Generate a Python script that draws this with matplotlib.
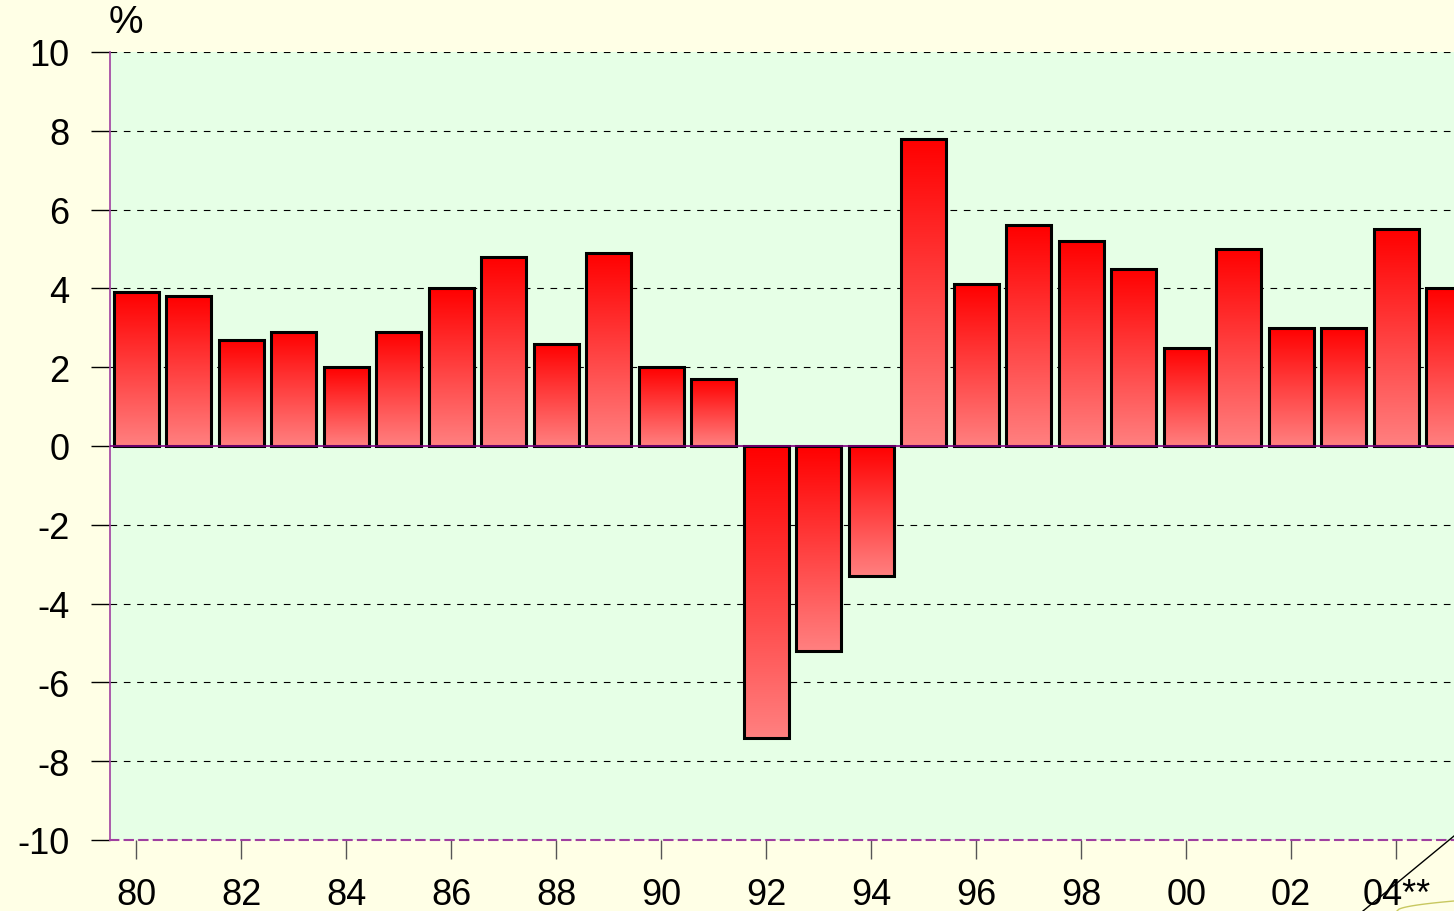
import numpy as np
import matplotlib.pyplot as plt
from matplotlib.lines import Line2D
from matplotlib.colors import LinearSegmentedColormap

plt.rcParams['font.family'] = ['Liberation Sans', 'DejaVu Sans']

years = ['80', '81', '82', '83', '84', '85', '86', '87', '88', '89', '90', '91', '92',
         '93', '94', '95', '96', '97', '98', '99', '00', '01', '02', '03', '04**', '05']
growth = [3.9, 3.8, 2.7, 2.9, 2.0, 2.9, 4.0, 4.8, 2.6, 4.9, 2.0, 1.7, -7.4,
          -5.2, -3.3, 7.8, 4.1, 5.6, 5.2, 4.5, 2.5, 5.0, 3.0, 3.0, 5.5, 4.0]
yticks = [-10, -8, -6, -4, -2, 0, 2, 4, 6, 8, 10]

fig = plt.figure(figsize=(14.54, 9.12), dpi=100, facecolor='#FFFFE6')
ax = fig.add_axes([110/1454, 1-841/912, 1-110/1454, (841-53)/912])
ax.set_facecolor('#E6FFE6')

x = np.arange(len(years))
bars = ax.bar(x, growth, width=0.86, facecolor='none', edgecolor='black', linewidth=2.2, zorder=3)

# gradient fill: red at top of bar, pale red at bottom
cmap = LinearSegmentedColormap.from_list('rd', ['#FF0000', '#FF8080'])
grad = np.linspace(0, 1, 256).reshape(-1, 1)
for b in bars:
    x0, w = b.get_x(), b.get_width()
    y0, h = b.get_y(), b.get_height()
    lo, hi = min(y0, y0+h), max(y0, y0+h)
    ax.imshow(grad, cmap=cmap, aspect='auto', extent=[x0, x0+w, lo, hi],
              origin='upper', zorder=2, interpolation='bilinear')

ax.set_xlim(-0.5, 25.1)
ax.set_ylim(-10, 10)
ax.set_yticks(yticks)
ax.set_yticklabels([str(v) for v in yticks], fontsize=26)
ax.set_xticks(x[::2])
ax.set_xticklabels(years[::2], fontsize=26)

for v in yticks:
    if v != 0:
        ax.axhline(v, color='black', linestyle=(0, (6, 6)), linewidth=0.8, zorder=1)
ax.axhline(0, color='#800080', linewidth=1.2, zorder=4)

ax.tick_params(axis='y', length=14, width=1, color='black', pad=15)
ax.tick_params(axis='x', length=14, width=1, color='#555555', pad=13)

for s in ['top', 'right']:
    ax.spines[s].set_visible(False)
ax.spines['left'].set_color('#A040A0')
ax.spines['left'].set_linewidth(1.2)
ax.spines['bottom'].set_color('#A040A0')
ax.spines['bottom'].set_linestyle((0, (4, 3)))
ax.spines['bottom'].set_linewidth(1.5)

fig.text(126/1454, 1-23/912, '%', fontsize=28, ha='center', va='center')

# slide decoration in the lower right corner
fig.add_artist(Line2D([1363/1454, 1.0], [0, 1-837/912], color='black', linewidth=1))
cx = np.linspace(1397, 1454, 30)
cy = 912 - 10 * np.sqrt((cx - 1397) / 57)
fig.add_artist(Line2D(cx/1454, 1-cy/912, color='#C8C860', linewidth=1))

fig.savefig('out.png', dpi=100, facecolor=fig.get_facecolor())
